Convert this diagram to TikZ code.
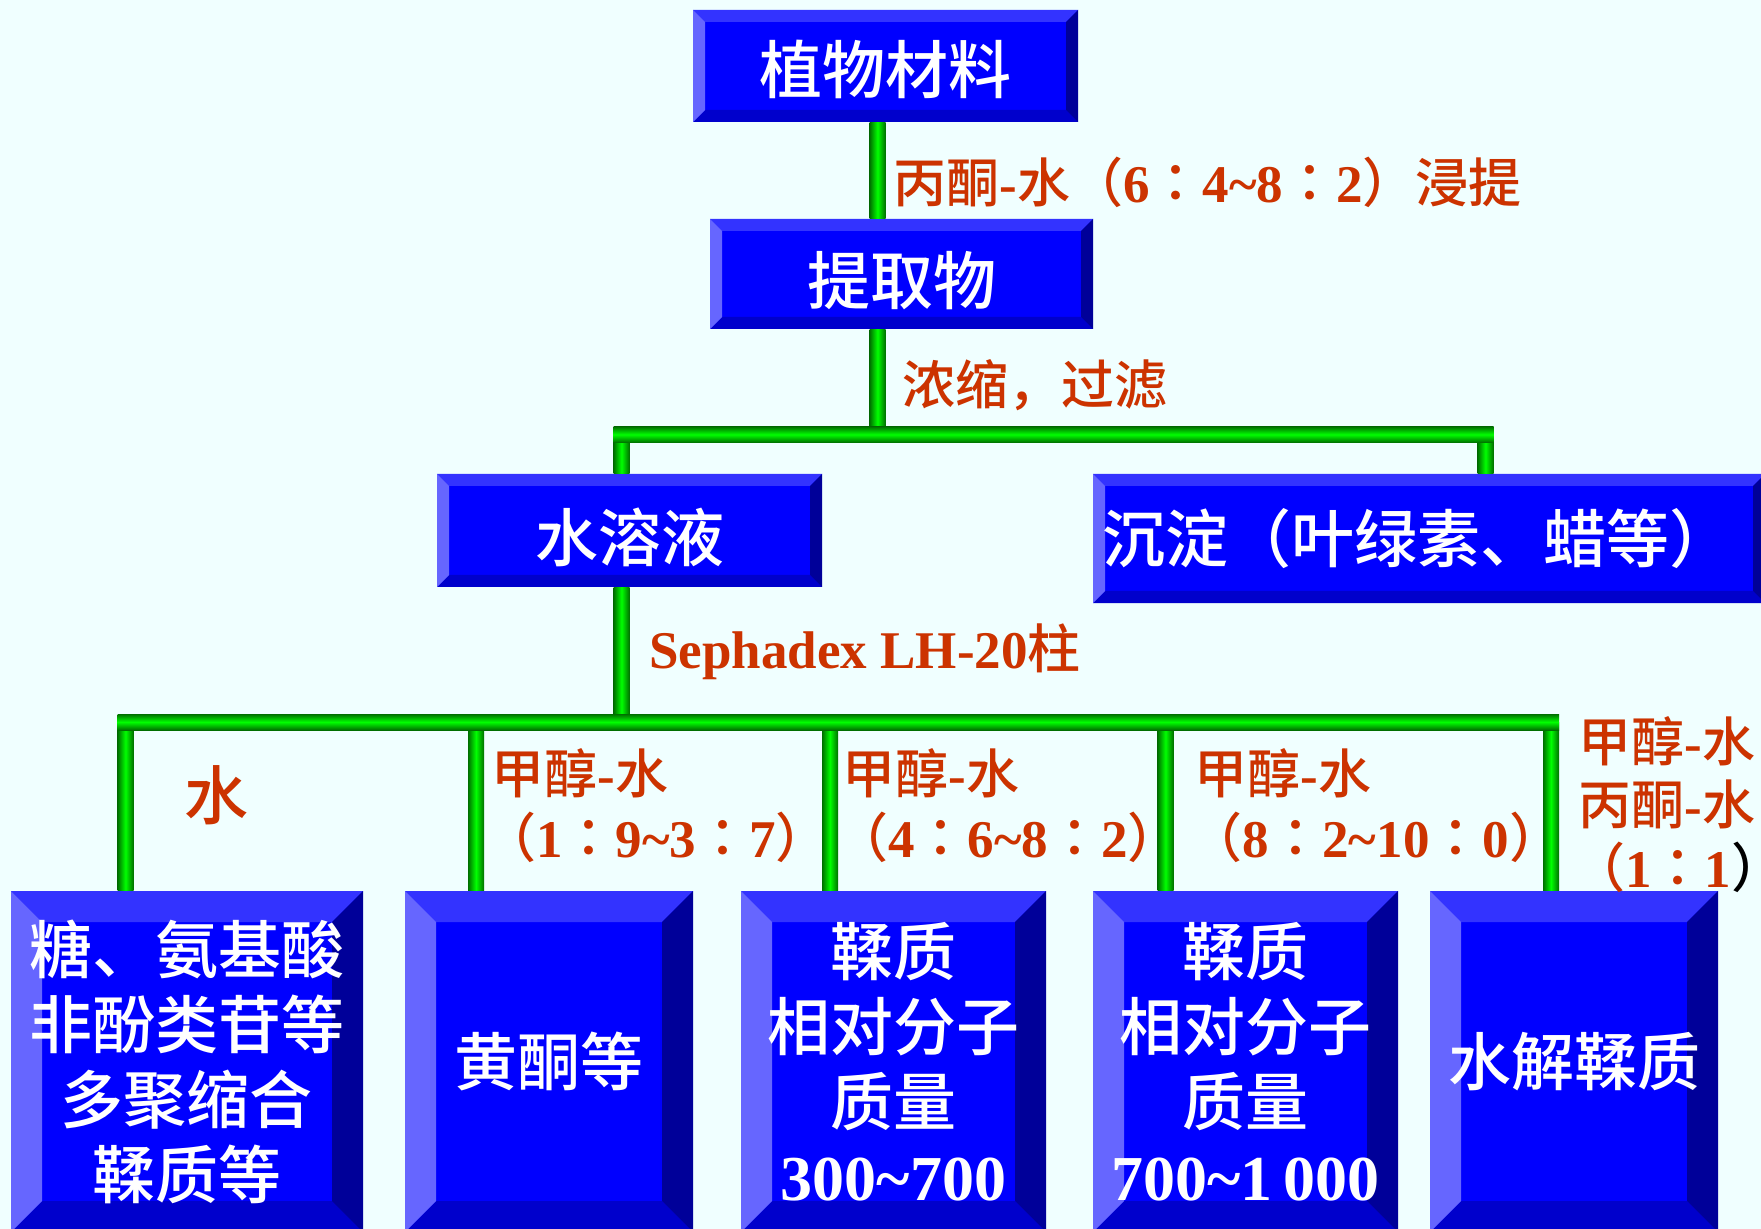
\documentclass[tikz,border=0pt]{standalone}
\usepackage{fontspec}
\setmainfont{Liberation Serif}
\newfontfamily\cjkfont{Noto Sans CJK SC Medium}
\newfontfamily\cjkp{Noto Sans CJK TC Medium}
\newcommand\cjk{\mdseries\cjkfont}
\usetikzlibrary{calc}
\definecolor{bg}{HTML}{F0FFFF}
\definecolor{face}{HTML}{0000FF}
\definecolor{bvT}{HTML}{3333FF}
\definecolor{bvL}{HTML}{6666FF}
\definecolor{bvR}{HTML}{000099}
\definecolor{bvB}{HTML}{0000CC}
\definecolor{labred}{HTML}{CC3300}
\definecolor{pipeD}{HTML}{006F00}
\definecolor{pipeL}{HTML}{00FF00}
\newcommand\cc{{\mdseries\cjkp ：}}
\newcommand\lowr[2]{\raisebox{-#1}[\height][\depth]{#2}}
\tikzset{
  bevelbox/.style={rectangle, fill=face, inner sep=0pt, text=white, align=center,
    font=\fontsize{31.5}{37.5}\selectfont\cjk,
    path picture={
      \path (path picture bounding box.north west) coordinate (bbnw)
            (path picture bounding box.north east) coordinate (bbne)
            (path picture bounding box.south west) coordinate (bbsw)
            (path picture bounding box.south east) coordinate (bbse);
      \fill[bvT] (bbnw) -- (bbne) -- ([shift={(-#1,-#1)}]bbne) -- ([shift={(#1,-#1)}]bbnw) -- cycle;
      \fill[bvB] (bbsw) -- (bbse) -- ([shift={(-#1,#1)}]bbse) -- ([shift={(#1,#1)}]bbsw) -- cycle;
      \fill[bvL] (bbnw) -- ([shift={(#1,-#1)}]bbnw) -- ([shift={(#1,#1)}]bbsw) -- (bbsw) -- cycle;
      \fill[bvR] (bbne) -- ([shift={(-#1,-#1)}]bbne) -- ([shift={(-#1,#1)}]bbse) -- (bbse) -- cycle;
    }},
  pipeV/.style={left color=pipeD, right color=pipeD, middle color=pipeL},
  pipeH/.style={top color=pipeD, bottom color=pipeD, middle color=pipeL},
  labtext/.style={text=labred, inner sep=0pt, font=\bfseries\fontsize{26.5}{30}\selectfont},
}
\begin{document}
\begin{tikzpicture}[x=0.5pt,y=-0.5pt]
\fill[bg] (0,0) rectangle (1761,1229);
\useasboundingbox (0,0) rectangle (1761,1229);
\clip (0,0) rectangle (1761,1229);

% junction coordinates
\coordinate (j1) at (877.5,434.5);
\coordinate (jl) at (621.5,434.5);
\coordinate (jr) at (1485.5,434.5);
\coordinate (j2) at (621.5,722);
\coordinate (k1) at (125.5,722);
\coordinate (k2) at (476,722);
\coordinate (k3) at (830,722);
\coordinate (k4) at (1165.5,722);
\coordinate (k5) at (1551,722);

% boxes
\node[bevelbox=6pt, minimum width=192.5pt, minimum height=56pt] (top) at (885.5,66) {\lowr{1.5pt}{植物材料}};
\node[bevelbox=6pt, minimum width=191.5pt, minimum height=55pt] (extract) at (901.5,274) {\lowr{3.5pt}{提取物}};
\node[bevelbox=6pt, minimum width=192.5pt, minimum height=56.5pt] (water) at (629.5,530.5) {\lowr{3.5pt}{水溶液}};
\node[bevelbox=6pt, minimum width=336pt, minimum height=64.5pt] (precip) at (1429,538.5) {沉淀（叶绿素、蜡等）\kern12pt};
\node[bevelbox=15.5pt, minimum width=176pt, minimum height=170.5pt] (b1) at (187,1061.5) {糖、氨基酸\\非酚类苷等\\多聚缩合\\鞣质等};
\node[bevelbox=15.5pt, minimum width=144pt, minimum height=170.5pt] (b2) at (549,1061.5) {黄酮等};
\node[bevelbox=15.5pt, minimum width=152.5pt, minimum height=170.5pt] (b3) at (893.5,1061.5) {鞣质\\相对分子\\质量\\{\rmfamily\bfseries\fontsize{32}{37.5}\selectfont 300\textasciitilde 700}};
\node[bevelbox=15.5pt, minimum width=152.5pt, minimum height=170.5pt] (b4) at (1245.5,1061.5) {鞣质\\相对分子\\质量\\{\rmfamily\bfseries\fontsize{32}{37.5}\selectfont 700\textasciitilde 1\,000}};
\node[bevelbox=15.5pt, minimum width=144pt, minimum height=170.5pt] (b5) at (1574,1061.5) {水解鞣质};

% pipes: vertical first, horizontals on top
\shade[pipeV] ($(top.south -| j1)+(-4pt,0)$) rectangle ($(extract.north -| j1)+(4pt,0)$);
\shade[pipeV] ($(extract.south -| j1)+(-4pt,0)$) rectangle ($(j1)+(4pt,0)$);
\shade[pipeV] ($(jl)+(-4pt,0)$) rectangle ($(water.north -| jl)+(4pt,0)$);
\shade[pipeV] ($(jr)+(-4pt,0)$) rectangle ($(precip.north -| jr)+(4pt,0)$);
\shade[pipeH] ($(jl)+(-4pt,4pt)$) rectangle ($(jr)+(4pt,-4pt)$);
\shade[pipeV] ($(water.south -| j2)+(-4pt,0)$) rectangle ($(j2)+(4pt,0)$);
\foreach \k/\b in {k1/b1,k2/b2,k3/b3,k4/b4,k5/b5}{
  \shade[pipeV] ($(\k)+(-4pt,0)$) rectangle ($(\b.north -| \k)+(4pt,0)$);
}
\shade[pipeH] ($(k1)+(-4pt,4pt)$) rectangle ($(k5)+(4pt,-4pt)$);

% labels
\node[labtext, anchor=west] (l1) at (893,182) {{\cjk 丙酮}-{\cjk 水（}6\cc 4\textasciitilde 8\cc 2{\cjk ）浸提}};
\node[labtext, anchor=west] (l2) at (902,385) {\cjk 浓缩，过滤};
\node[labtext, anchor=west] (l3) at (649,652) {Sephadex LH-20{\cjk 柱}};
\node[labtext, font=\fontsize{32}{36}\selectfont\cjk] (lw) at (216,795) {水};
\node[labtext] (m1a) at (580,773) {{\cjk 甲醇}-{\cjk 水}};
\node[labtext] (m1b) at (656,837) {{\cjk （}1\cc 9\textasciitilde 3\cc 7{\cjk ）}};
\node[labtext] (m2a) at (931,773) {{\cjk 甲醇}-{\cjk 水}};
\node[labtext] (m2b) at (1008,837) {{\cjk （}4\cc 6\textasciitilde 8\cc 2{\cjk ）}};
\node[labtext] (m3a) at (1283,773) {{\cjk 甲醇}-{\cjk 水}};
\node[labtext] (m3b) at (1376,837) {{\cjk （}8\cc 2\textasciitilde 10\cc 0{\cjk ）}};
\node[labtext] (m4a) at (1667,741) {{\cjk 甲醇}-{\cjk 水}};
\node[labtext] (m4b) at (1667,804) {{\cjk 丙酮}-{\cjk 水}};
\node[labtext, anchor=west] (m4c) at (1572,867) {{\cjk （}1\cc 1{\color{black}\cjk ）}\kern-0.6em};
\end{tikzpicture}
\end{document}
